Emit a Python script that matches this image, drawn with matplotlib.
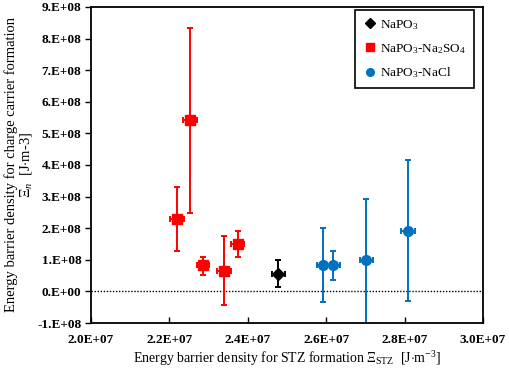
import matplotlib
matplotlib.use("Agg")
import matplotlib.pyplot as plt
import numpy as np

plt.rcParams['font.family'] = ['Liberation Serif', 'DejaVu Serif']
plt.rcParams['mathtext.fontset'] = 'custom'
plt.rcParams['mathtext.rm'] = 'Liberation Serif'
plt.rcParams['mathtext.it'] = 'Liberation Serif:italic'

# NaPO3
napo3_x = [2.478e7]
napo3_y = [0.56e8]
napo3_xerr = [0.017e7]
napo3_ylo = [0.14e8]
napo3_yhi = [0.98e8]

# NaPO3-Na2SO4
so4_x = [2.219e7, 2.2525e7, 2.286e7, 2.340e7, 2.374e7]
so4_y = [2.29e8, 5.42e8, 0.82e8, 0.66e8, 1.51e8]
so4_xerr = [0.018e7, 0.017e7, 0.016e7, 0.018e7, 0.017e7]
so4_ylo = [1.28e8, 2.49e8, 0.53e8, -0.44e8, 1.10e8]
so4_yhi = [3.31e8, 8.32e8, 1.10e8, 1.74e8, 1.92e8]

# NaPO3-NaCl
nacl_x = [2.593e7, 2.617e7, 2.702e7, 2.8085e7]
nacl_y = [0.84e8, 0.82e8, 0.99e8, 1.92e8]
nacl_xerr = [0.017e7, 0.019e7, 0.017e7, 0.017e7]
nacl_ylo = [-0.34e8, 0.35e8, -1.05e8, -0.31e8]
nacl_yhi = [2.00e8, 1.28e8, 2.93e8, 4.17e8]

xticks = [2.0e7, 2.2e7, 2.4e7, 2.6e7, 2.8e7, 3.0e7]
xticklabels = ["2.0E+07", "2.2E+07", "2.4E+07", "2.6E+07", "2.8E+07", "3.0E+07"]
yticks = [-1e8, 0, 1e8, 2e8, 3e8, 4e8, 5e8, 6e8, 7e8, 8e8, 9e8]
yticklabels = ["-1.E+08", "0.E+00", "1.E+08", "2.E+08", "3.E+08", "4.E+08",
               "5.E+08", "6.E+08", "7.E+08", "8.E+08", "9.E+08"]

fig = plt.figure(figsize=(5.10, 3.68), dpi=100)
ax = fig.add_axes([91/510, 1-323/368, (483-91)/510, (323-7)/368])

def draw(x, y, xe, lo, hi, color, marker, ms, label):
    x = np.array(x); y = np.array(y)
    yerr = np.vstack([y - np.array(lo), np.array(hi) - y])
    ax.errorbar(x, y, xerr=xe, yerr=yerr, fmt='none', ecolor=color,
                elinewidth=1.4, capsize=2, capthick=1.4, zorder=2)
    ax.plot(x, y, linestyle='none', marker=marker, color=color,
            markersize=ms, label=label, zorder=3)

ax.axhline(0, color='black', linestyle=(0, (1, 1.2)), linewidth=1.0, zorder=1)
draw(napo3_x, napo3_y, napo3_xerr, napo3_ylo, napo3_yhi, 'black', 'D', 6, r'NaPO$_3$')
draw(so4_x, so4_y, so4_xerr, so4_ylo, so4_yhi, '#ff0000', 's', 7, r'NaPO$_3$-Na$_2$SO$_4$')
draw(nacl_x, nacl_y, nacl_xerr, nacl_ylo, nacl_yhi, '#0070c0', 'o', 7, r'NaPO$_3$-NaCl')

ax.set_xlim(2.0e7, 3.0e7)
ax.set_ylim(-1e8, 9e8)
ax.set_xticks(xticks)
ax.set_xticklabels(xticklabels, fontsize=9.5, fontweight='bold')
ax.set_yticks(yticks)
ax.set_yticklabels(yticklabels, fontsize=9.5, fontweight='bold')
ax.tick_params(axis='x', direction='in', length=4, width=1, pad=8)
ax.tick_params(axis='y', direction='out', length=4, width=1, pad=3)
for s in ax.spines.values():
    s.set_linewidth(1.3)

ax.set_xlabel(r'Energy barrier density for STZ formation $\Xi_{\mathrm{STZ}}$  [J$\cdot$m$^{-3}$]',
              fontsize=10, labelpad=2)
ax.set_ylabel('Energy barrier density for charge carrier formation\n' + r'$\Xi_n$  [J$\cdot$m-3]',
              fontsize=10.5, labelpad=2, linespacing=1.0)

leg = ax.legend(loc='upper right', bbox_to_anchor=(0.977, 0.99), borderaxespad=0,
                fancybox=False, edgecolor='black', framealpha=1, fontsize=9.5,
                handletextpad=0.3, handlelength=1.0, borderpad=0.6, labelspacing=0.75)
leg.get_frame().set_linewidth(1.2)
for h in leg.legend_handles:
    h.set_markersize(5.5)

fig.savefig('out.png', dpi=100)
